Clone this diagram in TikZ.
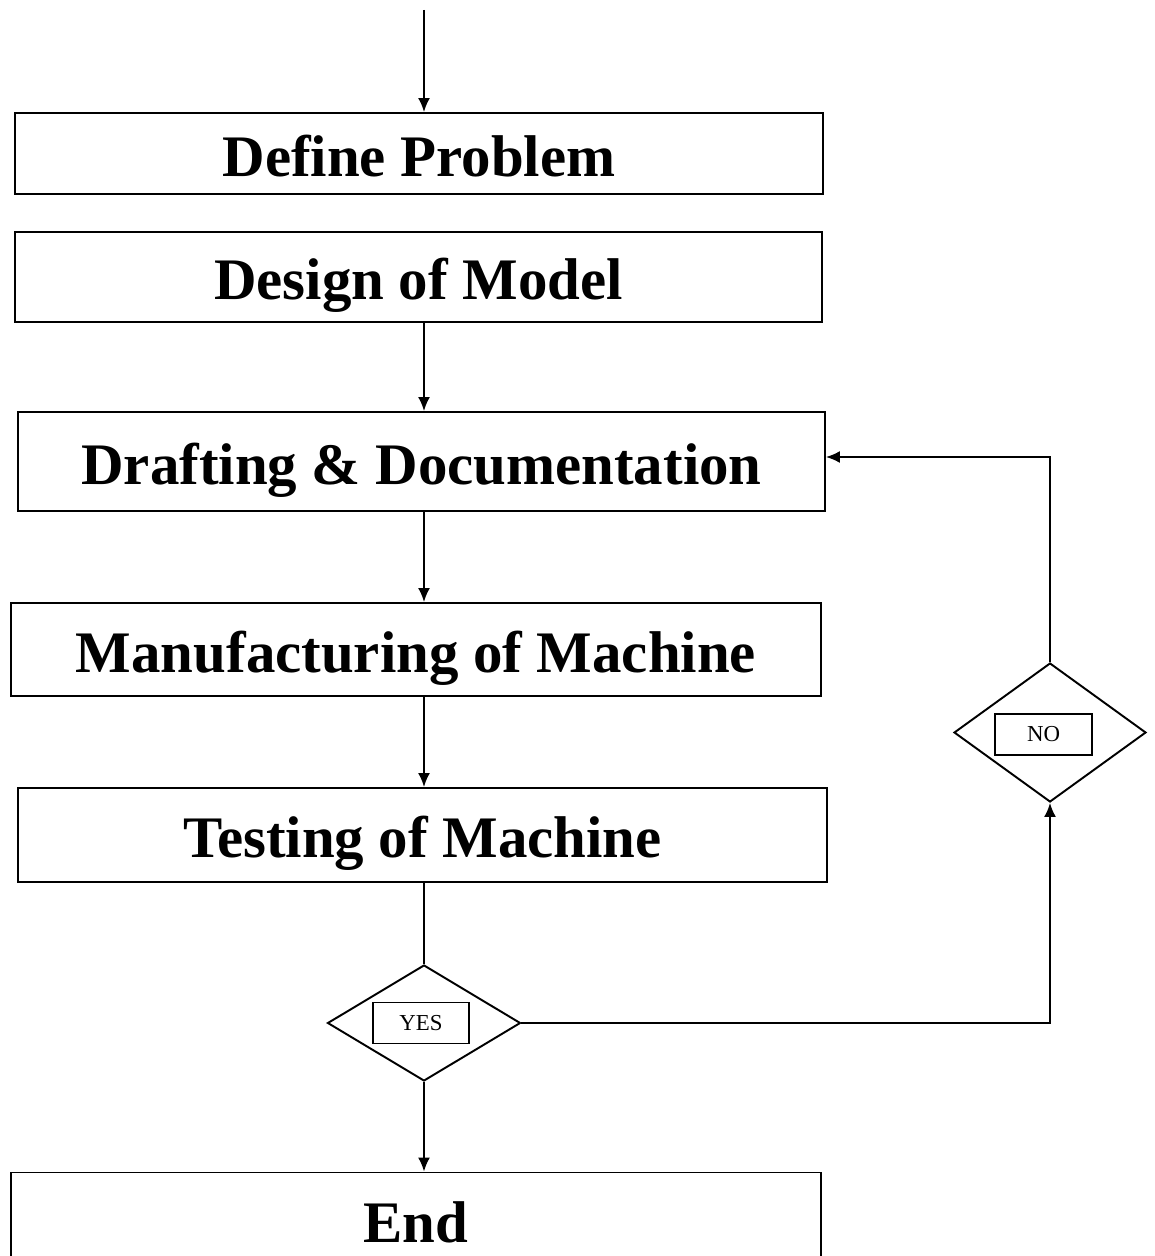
\documentclass[tikz,border=0pt]{standalone}
\usepackage{fontspec}
\setmainfont{Liberation Serif}
\usetikzlibrary{positioning}
\usetikzlibrary{calc}
\usetikzlibrary{arrows.meta}
\usetikzlibrary{shapes.geometric}

\tikzset{
  stage/.style={draw,line width=1.1pt,inner sep=0pt,text height=26pt,text depth=0pt,
    font=\fontsize{33.5}{38}\selectfont\bfseries},
  decision/.style={draw,diamond,line width=1.1pt,inner sep=0pt,aspect=1.6},
  tag/.style={draw,line width=1.1pt,inner sep=0pt,minimum width=1.93cm,minimum height=0.82cm,font=\fontsize{13}{15}\selectfont},
  flow/.style={line width=1.1pt,-{Latex[length=0.28cm,width=0.24cm]}}
}

\begin{document}
\begin{tikzpicture}[x=0.02cm,y=-0.02cm]
\useasboundingbox (0,0) rectangle (1154,1256);

\coordinate (start) at (424,10);
\node[stage,minimum width=16.16cm,minimum height=1.62cm](define) at (419,153.5){Define Problem};
\node[stage,minimum width=16.14cm,minimum height=1.8cm](model) at (418.5,277){Design of Model};
\node[stage,minimum width=16.14cm,minimum height=1.98cm](drafting) at (421.5,461.5){Drafting \& Documentation};
\node[stage,minimum width=16.2cm,minimum height=1.86cm](manuf) at (416,649.5){Manufacturing of Machine};
\node[stage,minimum width=16.18cm,minimum height=1.88cm](testing) at (422.5,835){Testing of Machine};
\node[stage,minimum width=16.2cm,minimum height=1.9cm](end) at (416,1220){End};

% decision diamonds
\node[decision,minimum width=3.86cm,minimum height=2.32cm](yes) at (424,1023){};
\node[tag](yesbox) at (421,1023){YES};
\node[decision,minimum width=3.84cm,minimum height=2.78cm](no) at (1050,732.5){};
\node[tag](nobox) at (1043.5,734.5){NO};

\path
(start) edge[flow] (start |- define.north)
(start |- model.south) edge[flow] (start |- drafting.north)
(start |- drafting.south) edge[flow] (start |- manuf.north)
(start |- manuf.south) edge[flow] (start |- testing.north)
(start |- testing.south) edge[line width=1.1pt] (yes.north)
(yes.south) edge[flow] (yes.south |- end.north);

\draw[flow] (yes.east) -| (no.south);
\draw[flow] (no.north) |- ($(drafting.east)+(0,-4.5)$);
\end{tikzpicture}
\end{document}
